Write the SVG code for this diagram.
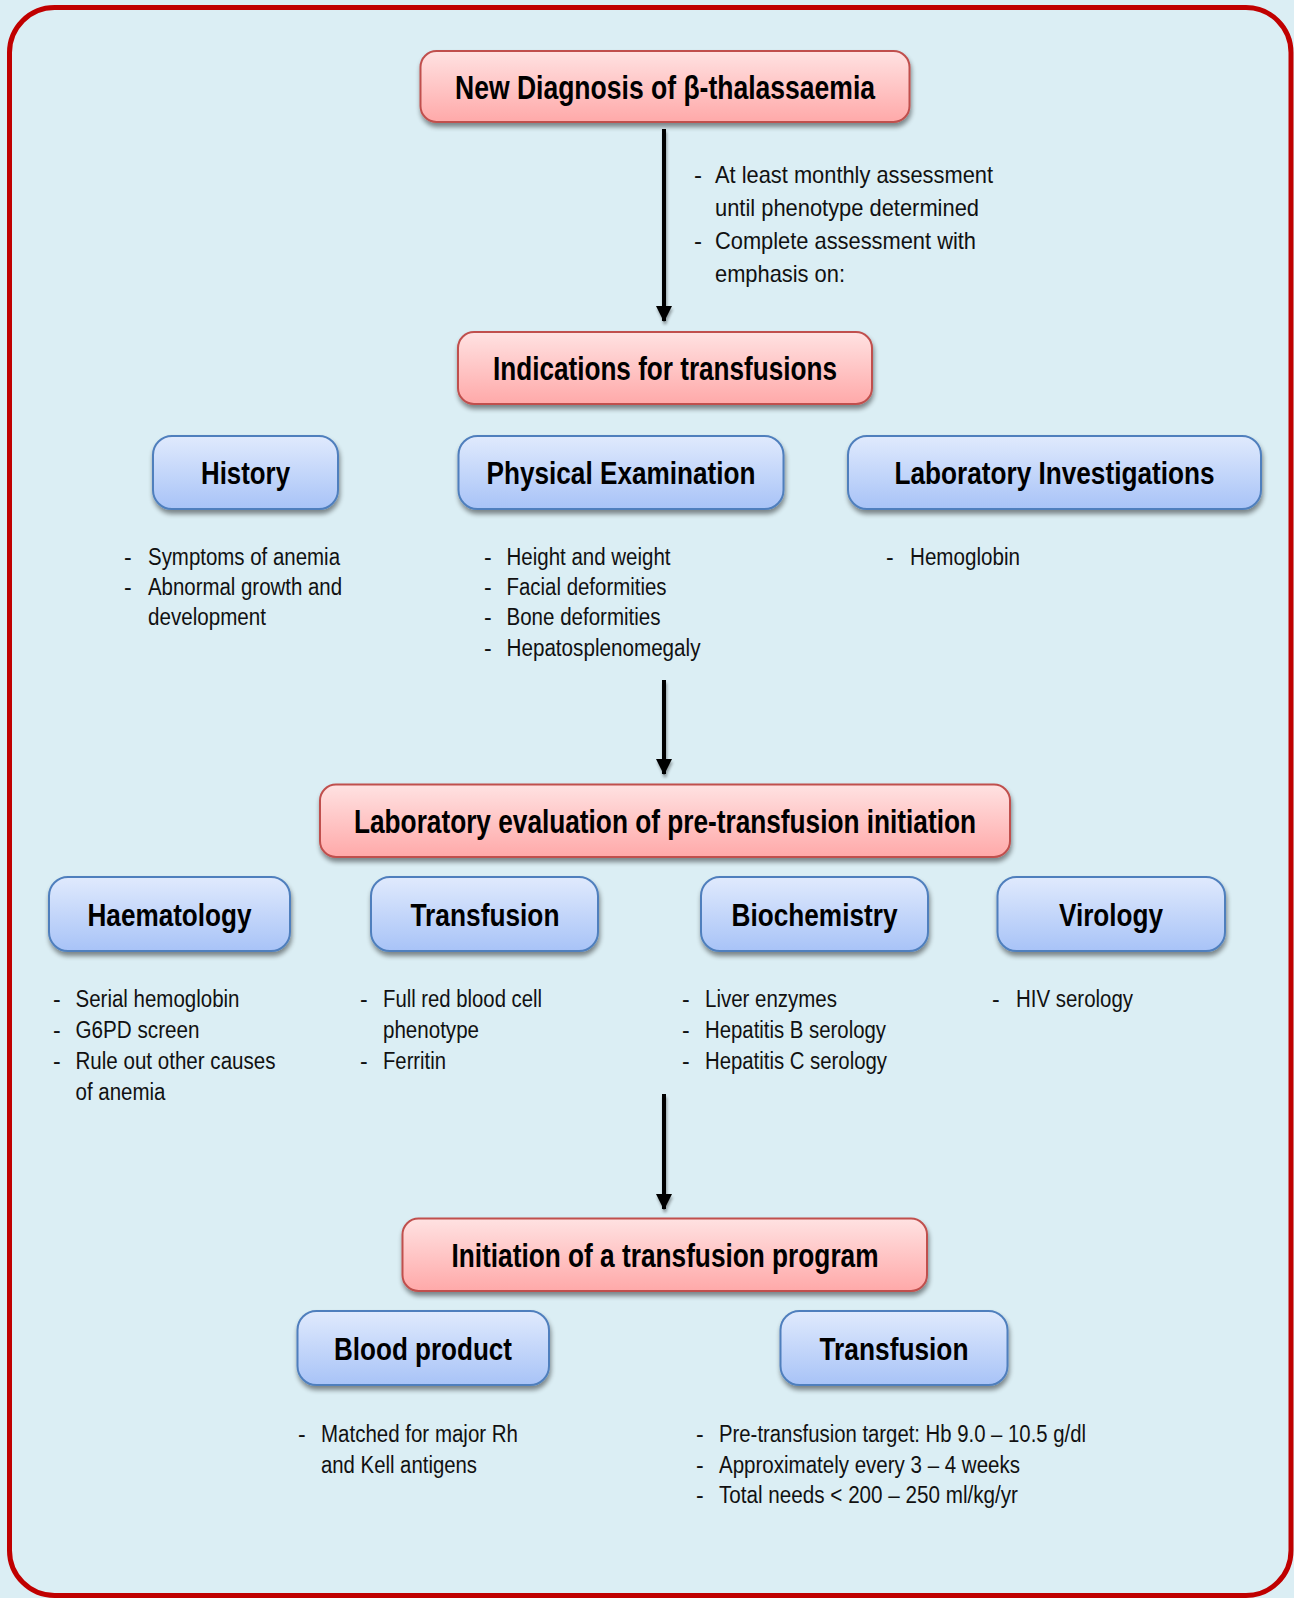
<svg xmlns="http://www.w3.org/2000/svg" width="1294" height="1598" viewBox="0 0 1294 1598">
<defs>
<linearGradient id="gRed" x1="0" y1="0" x2="0" y2="1">
<stop offset="0" stop-color="#ffe2e2"/>
<stop offset="1" stop-color="#ffa9a9"/>
</linearGradient>
<linearGradient id="gBlue" x1="0" y1="0" x2="0" y2="1">
<stop offset="0" stop-color="#e0eafd"/>
<stop offset="1" stop-color="#a8c3f7"/>
</linearGradient>
<filter id="sh" x="-10%" y="-20%" width="120%" height="160%">
<feGaussianBlur in="SourceAlpha" stdDeviation="2.5"/>
<feOffset dx="1" dy="4" result="b"/>
<feComponentTransfer><feFuncA type="linear" slope="0.45"/></feComponentTransfer>
<feMerge><feMergeNode/><feMergeNode in="SourceGraphic"/></feMerge>
</filter>
<filter id="shA" filterUnits="userSpaceOnUse" x="0" y="0" width="1294" height="1598">
<feGaussianBlur in="SourceAlpha" stdDeviation="1.5"/>
<feOffset dx="1" dy="3" result="b"/>
<feComponentTransfer><feFuncA type="linear" slope="0.35"/></feComponentTransfer>
<feMerge><feMergeNode/><feMergeNode in="SourceGraphic"/></feMerge>
</filter>
<marker id="ah" markerUnits="userSpaceOnUse" markerWidth="16" markerHeight="16" viewBox="0 0 16 16" refX="15" refY="8" orient="auto">
<path d="M0,0 L16,8 L0,16 Z" fill="#000"/>
</marker>
</defs>
<style>
.red{fill:url(#gRed);stroke:#c0504d;stroke-width:2;filter:url(#sh)}
.blue{fill:url(#gBlue);stroke:#4f7fbd;stroke-width:2;filter:url(#sh)}
.t{font-family:"Liberation Sans Narrow","Liberation Sans",Arial,sans-serif;font-weight:bold;fill:#000;text-anchor:middle}
.t1{font-size:33px}
.t2{font-size:31px}
.b{font-family:"Liberation Sans Narrow","Liberation Sans",Arial,sans-serif;font-size:23px;fill:#111}
.bt{font-size:24px}
.arr{stroke:#000;stroke-width:4;fill:none}
</style>
<rect x="0" y="0" width="1294" height="1598" fill="#dbeef4"/>
<rect x="9.5" y="7.5" width="1281.5" height="1588" rx="45" ry="45" fill="#dbeef4" stroke="#c00000" stroke-width="5"/>

<g id="connectors" filter="url(#shA)">
<line class="arr" x1="664" y1="129" x2="664" y2="321" marker-end="url(#ah)"/>
<line class="arr" x1="664" y1="680" x2="664" y2="774" marker-end="url(#ah)"/>
<line class="arr" x1="664" y1="1094" x2="664" y2="1209" marker-end="url(#ah)"/>
</g>

<g id="note-top" class="b bt">
<text x="694" y="183">-</text><text x="715" y="183" textLength="278" lengthAdjust="spacingAndGlyphs">At least monthly assessment</text>
<text x="715" y="216" textLength="264" lengthAdjust="spacingAndGlyphs">until phenotype determined</text>
<text x="694" y="249">-</text><text x="715" y="249" textLength="261" lengthAdjust="spacingAndGlyphs">Complete assessment with</text>
<text x="715" y="282" textLength="130" lengthAdjust="spacingAndGlyphs">emphasis on:</text>
</g>

<g id="n-new-diagnosis">
<rect class="red" x="420.5" y="51" width="489" height="71" rx="16"/>
<text class="t t1" x="665" y="99" textLength="420" lengthAdjust="spacingAndGlyphs">New Diagnosis of β-thalassaemia</text>
</g>

<g id="n-indications">
<rect class="red" x="458" y="332" width="414" height="72" rx="16"/>
<text class="t t1" x="665" y="380" textLength="344" lengthAdjust="spacingAndGlyphs">Indications for transfusions</text>
</g>

<g id="n-history">
<rect class="blue" x="153" y="436" width="185" height="73" rx="19"/>
<text class="t t2" x="245.5" y="484" textLength="89" lengthAdjust="spacingAndGlyphs">History</text>
</g>
<g id="n-physical">
<rect class="blue" x="458.5" y="436" width="325" height="73" rx="19"/>
<text class="t t2" x="621" y="484" textLength="269" lengthAdjust="spacingAndGlyphs">Physical Examination</text>
</g>
<g id="n-labinv">
<rect class="blue" x="848" y="436" width="413" height="73" rx="19"/>
<text class="t t2" x="1054.5" y="484" textLength="320" lengthAdjust="spacingAndGlyphs">Laboratory Investigations</text>
</g>

<g id="list-history" class="b">
<text x="124" y="565">-</text><text x="148" y="565" textLength="192" lengthAdjust="spacingAndGlyphs">Symptoms of anemia</text>
<text x="124" y="595">-</text><text x="148" y="595" textLength="194" lengthAdjust="spacingAndGlyphs">Abnormal growth and</text>
<text x="148" y="625" textLength="118" lengthAdjust="spacingAndGlyphs">development</text>
</g>
<g id="list-physical" class="b">
<text x="484" y="565">-</text><text x="506.5" y="565" textLength="164" lengthAdjust="spacingAndGlyphs">Height and weight</text>
<text x="484" y="595">-</text><text x="506.5" y="595" textLength="160" lengthAdjust="spacingAndGlyphs">Facial deformities</text>
<text x="484" y="625">-</text><text x="506.5" y="625" textLength="154" lengthAdjust="spacingAndGlyphs">Bone deformities</text>
<text x="484" y="656">-</text><text x="506.5" y="656" textLength="194" lengthAdjust="spacingAndGlyphs">Hepatosplenomegaly</text>
</g>
<g id="list-labinv" class="b">
<text x="886" y="565">-</text><text x="910" y="565" textLength="110" lengthAdjust="spacingAndGlyphs">Hemoglobin</text>
</g>

<g id="n-lab-eval">
<rect class="red" x="320" y="784.5" width="690" height="72.5" rx="16"/>
<text class="t t1" x="665" y="833" textLength="622" lengthAdjust="spacingAndGlyphs">Laboratory evaluation of pre-transfusion initiation</text>
</g>

<g id="n-haematology">
<rect class="blue" x="49" y="877" width="241" height="74" rx="19"/>
<text class="t t2" x="169.5" y="926" textLength="164" lengthAdjust="spacingAndGlyphs">Haematology</text>
</g>
<g id="n-transfusion1">
<rect class="blue" x="371" y="877" width="227" height="74" rx="19"/>
<text class="t t2" x="485" y="926" textLength="149" lengthAdjust="spacingAndGlyphs">Transfusion</text>
</g>
<g id="n-biochemistry">
<rect class="blue" x="701" y="877" width="227" height="74" rx="19"/>
<text class="t t2" x="814.5" y="926" textLength="166" lengthAdjust="spacingAndGlyphs">Biochemistry</text>
</g>
<g id="n-virology">
<rect class="blue" x="997.5" y="877" width="227.5" height="74" rx="19"/>
<text class="t t2" x="1111" y="926" textLength="104" lengthAdjust="spacingAndGlyphs">Virology</text>
</g>

<g id="list-haematology" class="b">
<text x="53" y="1007">-</text><text x="75.5" y="1007" textLength="164" lengthAdjust="spacingAndGlyphs">Serial hemoglobin</text>
<text x="53" y="1038">-</text><text x="75.5" y="1038" textLength="124" lengthAdjust="spacingAndGlyphs">G6PD screen</text>
<text x="53" y="1069">-</text><text x="75.5" y="1069" textLength="200" lengthAdjust="spacingAndGlyphs">Rule out other causes</text>
<text x="75.5" y="1100" textLength="90" lengthAdjust="spacingAndGlyphs">of anemia</text>
</g>
<g id="list-transfusion1" class="b">
<text x="360" y="1007">-</text><text x="383" y="1007" textLength="159" lengthAdjust="spacingAndGlyphs">Full red blood cell</text>
<text x="383" y="1038" textLength="96" lengthAdjust="spacingAndGlyphs">phenotype</text>
<text x="360" y="1069">-</text><text x="383" y="1069" textLength="63" lengthAdjust="spacingAndGlyphs">Ferritin</text>
</g>
<g id="list-biochemistry" class="b">
<text x="682" y="1007">-</text><text x="705" y="1007" textLength="132" lengthAdjust="spacingAndGlyphs">Liver enzymes</text>
<text x="682" y="1038">-</text><text x="705" y="1038" textLength="181" lengthAdjust="spacingAndGlyphs">Hepatitis B serology</text>
<text x="682" y="1069">-</text><text x="705" y="1069" textLength="182" lengthAdjust="spacingAndGlyphs">Hepatitis C serology</text>
</g>
<g id="list-virology" class="b">
<text x="992" y="1007">-</text><text x="1016" y="1007" textLength="117" lengthAdjust="spacingAndGlyphs">HIV serology</text>
</g>

<g id="n-initiation">
<rect class="red" x="402.5" y="1218.5" width="524.5" height="72.5" rx="16"/>
<text class="t t1" x="665" y="1267" textLength="427" lengthAdjust="spacingAndGlyphs">Initiation of a transfusion program</text>
</g>

<g id="n-blood-product">
<rect class="blue" x="297.5" y="1311" width="251.5" height="74" rx="19"/>
<text class="t t2" x="423" y="1360" textLength="178" lengthAdjust="spacingAndGlyphs">Blood product</text>
</g>
<g id="n-transfusion2">
<rect class="blue" x="780.5" y="1311" width="227" height="74" rx="19"/>
<text class="t t2" x="894" y="1360" textLength="149" lengthAdjust="spacingAndGlyphs">Transfusion</text>
</g>

<g id="list-blood-product" class="b">
<text x="298" y="1442">-</text><text x="321" y="1442" textLength="197" lengthAdjust="spacingAndGlyphs">Matched for major Rh</text>
<text x="321" y="1473" textLength="156" lengthAdjust="spacingAndGlyphs">and Kell antigens</text>
</g>
<g id="list-transfusion2" class="b">
<text x="696" y="1442">-</text><text x="719" y="1442" textLength="367" lengthAdjust="spacingAndGlyphs">Pre-transfusion target: Hb 9.0 – 10.5 g/dl</text>
<text x="696" y="1473">-</text><text x="719" y="1473" textLength="301" lengthAdjust="spacingAndGlyphs">Approximately every 3 – 4 weeks</text>
<text x="696" y="1503">-</text><text x="719" y="1503" textLength="299" lengthAdjust="spacingAndGlyphs">Total needs &lt; 200 – 250 ml/kg/yr</text>
</g>
</svg>
